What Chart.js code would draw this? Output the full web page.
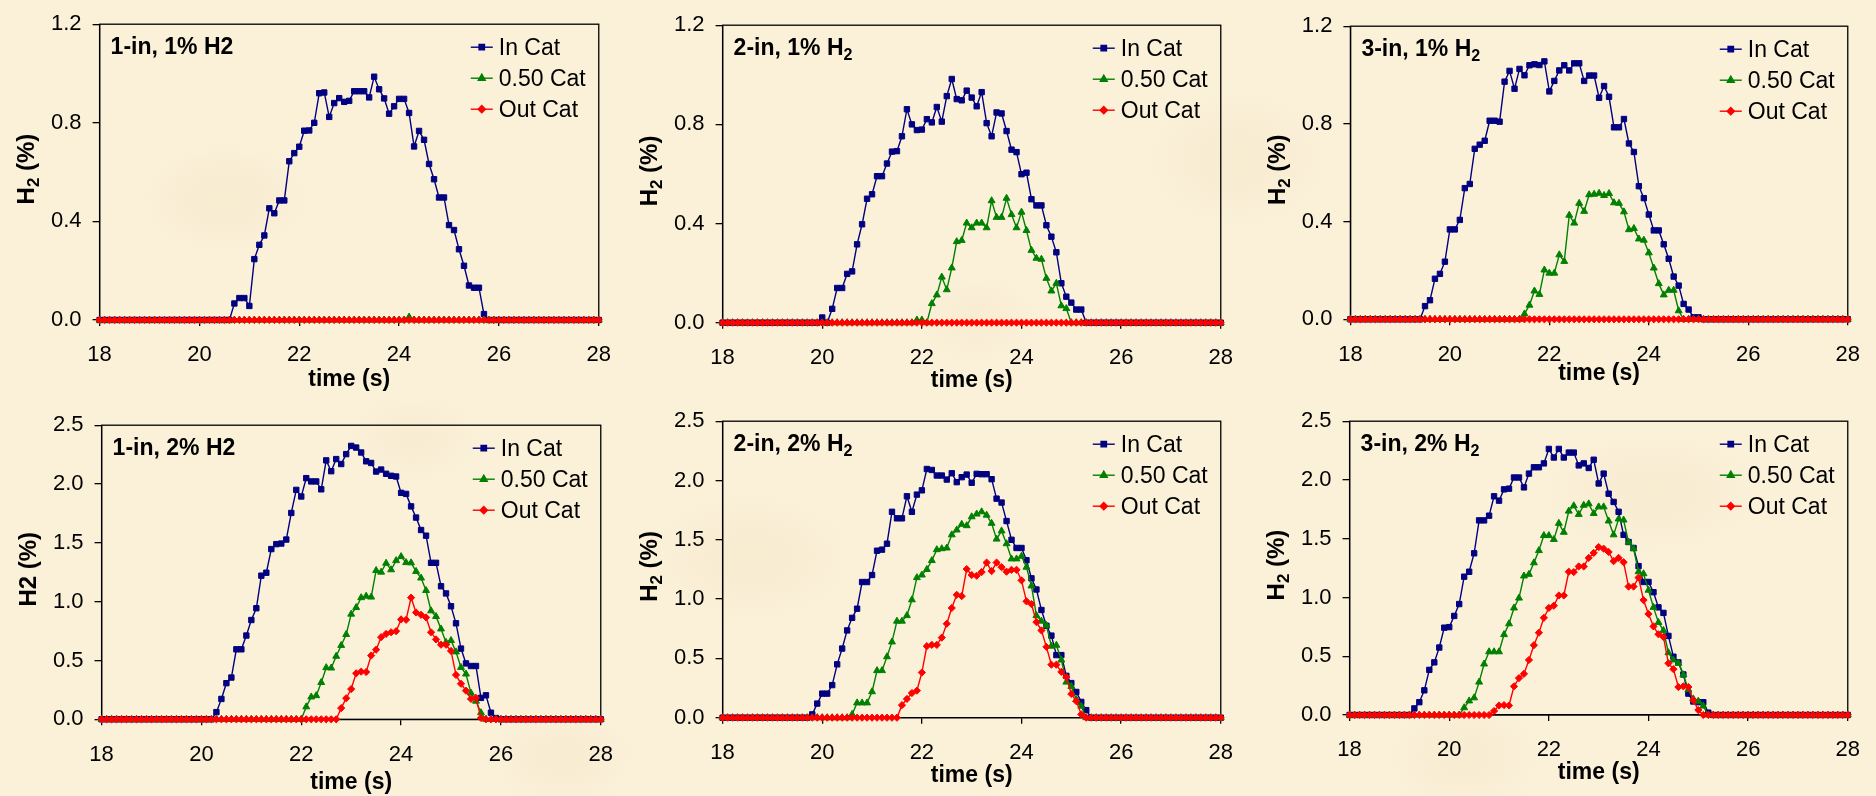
<!DOCTYPE html>
<html><head><meta charset="utf-8">
<script src="https://cdn.jsdelivr.net/npm/chart.js@4.4.1/dist/chart.umd.min.js"></script>
<style>
html,body{margin:0;padding:0;width:1876px;height:796px;overflow:hidden;}
body{position:relative;background-color:#FBF1D9;
background-image:
 radial-gradient(ellipse 90px 60px at 12% 25%, rgba(238,222,186,0.30), transparent),
 radial-gradient(ellipse 110px 70px at 40% 70%, rgba(238,222,186,0.28), transparent),
 radial-gradient(ellipse 100px 75px at 66% 20%, rgba(238,222,186,0.28), transparent),
 radial-gradient(ellipse 120px 65px at 88% 62%, rgba(238,222,186,0.28), transparent),
 radial-gradient(ellipse 80px 55px at 30% 95%, rgba(238,222,186,0.25), transparent),
 radial-gradient(ellipse 85px 60px at 78% 95%, rgba(238,222,186,0.25), transparent),
 radial-gradient(ellipse 70px 50px at 52% 40%, rgba(238,222,186,0.22), transparent),
 radial-gradient(ellipse 75px 50px at 22% 55%, rgba(238,222,186,0.22), transparent);}
canvas{position:absolute;}
</style></head><body>
<script>
// ---------- data ----------
const TIME = Array.from({length: 101}, (_, i) => Math.round(180 + i) / 10);   // 18.0 .. 28.0 s
const X_TICKS = [18, 20, 22, 24, 26, 28];
const Y_MAX_TOP = 1.2, Y_STEP_TOP = 0.4;
const Y_MAX_BOTTOM = 2.5, Y_STEP_BOTTOM = 0.5;
const SERIES_NAMES = ['In Cat', '0.50 Cat', 'Out Cat'];

// Each series: time of first non-zero sample, then the non-zero run (0 elsewhere)
// 1-in, 1% H2
const IN_1IN_1_START = 20.7;
const IN_1IN_1 = [0.067,0.089,0.089,0.057,0.247,0.305,0.343,0.453,0.433,0.485,0.485,0.644,0.677,0.703,0.768,0.769,0.80,0.92,0.923,0.824,0.88,0.90,0.885,0.889,0.928,0.928,0.928,0.903,0.987,0.936,0.899,0.837,0.867,0.897,0.897,0.84,0.704,0.767,0.731,0.633,0.571,0.497,0.497,0.385,0.365,0.287,0.22,0.14,0.131,0.131,0.024];
const MID_1IN_1_START = 24.2;
const MID_1IN_1 = [0.012];
const OUT_1IN_1_START = 18.0;
const OUT_1IN_1 = [];
// 2-in, 1% H2
const IN_2IN_1_START = 20.0;
const IN_2IN_1 = [0.021,0,0.056,0.14,0.14,0.197,0.207,0.316,0.397,0.50,0.518,0.591,0.591,0.642,0.69,0.692,0.752,0.861,0.80,0.777,0.779,0.821,0.808,0.870,0.811,0.914,0.983,0.902,0.897,0.936,0.908,0.873,0.930,0.805,0.752,0.848,0.844,0.773,0.698,0.688,0.599,0.605,0.498,0.473,0.473,0.393,0.347,0.284,0.159,0.105,0.081,0.053,0.053];
const MID_2IN_1_START = 21.9;
const MID_2IN_1 = [0.011,0.011,0,0.077,0.112,0.184,0.133,0.221,0.327,0.332,0.402,0.383,0.402,0.402,0.383,0.492,0.425,0.425,0.502,0.436,0.383,0.446,0.372,0.292,0.260,0.256,0.179,0.128,0.159,0.068,0.057];
const OUT_2IN_1_START = 18.0;
const OUT_2IN_1 = [];
// 3-in, 1% H2
const IN_3IN_1_START = 19.5;
const IN_3IN_1 = [0.054,0.078,0.166,0.186,0.236,0.368,0.368,0.407,0.537,0.554,0.698,0.715,0.731,0.813,0.813,0.809,0.973,1.017,0.944,1.025,0.999,1.040,1.044,1.041,1.056,0.933,0.976,1.019,1.040,1.019,1.048,1.048,0.976,0.998,0.998,0.907,0.955,0.911,0.786,0.786,0.820,0.720,0.685,0.545,0.496,0.429,0.364,0.364,0.307,0.248,0.175,0.138,0.063,0.040,0.008,0.008];
const MID_3IN_1_START = 21.5;
const MID_3IN_1 = [0.022,0.058,0.116,0.102,0.202,0.189,0.189,0.264,0.237,0.426,0.394,0.475,0.442,0.510,0.512,0.516,0.507,0.515,0.477,0.475,0.440,0.367,0.372,0.329,0.324,0.272,0.210,0.146,0.100,0.119,0.119,0.035];
const OUT_3IN_1_START = 18.0;
const OUT_3IN_1 = [];
// 1-in, 2% H2
const IN_1IN_2_START = 20.3;
const IN_1IN_2 = [0.061,0.173,0.307,0.355,0.595,0.595,0.712,0.844,0.944,1.221,1.246,1.447,1.489,1.494,1.528,1.754,1.950,1.894,2.050,2.022,2.022,1.955,2.201,2.109,2.212,2.170,2.254,2.324,2.310,2.268,2.193,2.179,2.106,2.123,2.087,2.070,2.064,1.925,1.916,1.810,1.715,1.609,1.561,1.330,1.330,1.131,1.070,0.961,0.816,0.601,0.475,0.453,0.453,0.182,0.204,0.056,0.011];
const MID_1IN_2_START = 22.1;
const MID_1IN_2 = [0.106,0.190,0.201,0.313,0.439,0.436,0.536,0.628,0.721,0.894,0.950,1.034,1.047,1.039,1.265,1.251,1.327,1.271,1.349,1.383,1.332,1.330,1.257,1.201,1.095,0.922,0.874,0.768,0.654,0.670,0.573,0.441,0.385,0.223,0.154,0.056];
const OUT_1IN_2_START = 22.8;
const OUT_1IN_2 = [0.095,0.179,0.257,0.391,0.405,0.402,0.542,0.592,0.698,0.726,0.740,0.749,0.849,0.846,1.034,0.908,0.888,0.866,0.740,0.679,0.634,0.634,0.581,0.377,0.302,0.243,0.173,0.182,0.011];
// 2-in, 2% H2
const IN_2IN_2_START = 19.8;
const IN_2IN_2 = [0.028,0.119,0.203,0.203,0.275,0.45,0.583,0.736,0.842,0.919,1.144,1.144,1.203,1.408,1.417,1.467,1.736,1.681,1.681,1.867,1.736,1.881,1.917,2.097,2.089,2.042,2.042,2.008,2.061,1.986,2.028,2.050,1.981,2.056,2.053,2.053,2.011,1.847,1.814,1.658,1.50,1.431,1.431,1.328,1.175,1.081,0.908,0.775,0.692,0.528,0.528,0.353,0.292,0.217,0.133,0.064];
const MID_2IN_2_START = 20.6;
const MID_2IN_2 = [0.028,0.125,0.125,0.125,0.219,0.397,0.397,0.514,0.639,0.814,0.814,0.861,0.994,1.181,1.203,1.25,1.325,1.417,1.425,1.431,1.542,1.583,1.631,1.619,1.694,1.717,1.736,1.708,1.639,1.506,1.575,1.467,1.339,1.339,1.361,1.269,1.111,0.861,0.814,0.778,0.603,0.611,0.486,0.30,0.264,0.153,0.097];
const OUT_2IN_2_START = 21.6;
const OUT_2IN_2 = [0.106,0.158,0.208,0.228,0.381,0.603,0.614,0.614,0.675,0.792,0.925,1.036,1.025,1.253,1.203,1.197,1.228,1.308,1.236,1.308,1.269,1.231,1.247,1.247,1.158,0.981,0.958,0.806,0.736,0.597,0.447,0.447,0.386,0.342,0.20,0.139,0.028];
// 3-in, 2% H2
const IN_3IN_2_START = 19.3;
const IN_3IN_2 = [0.056,0.109,0.210,0.384,0.448,0.574,0.743,0.748,0.843,0.944,1.177,1.219,1.376,1.656,1.656,1.696,1.861,1.824,1.920,1.926,2.021,2.021,1.937,2.054,2.108,2.108,2.141,2.264,2.191,2.264,2.191,2.233,2.233,2.124,2.141,2.102,2.172,1.97,2.054,1.883,1.813,1.729,1.533,1.472,1.421,1.267,1.132,1.132,1.045,0.916,0.869,0.673,0.496,0.448,0.345,0.182,0.115,0.109,0.109,0.02];
const MID_3IN_2_START = 20.3;
const MID_3IN_2 = [0.062,0.12,0.146,0.28,0.434,0.538,0.538,0.538,0.684,0.776,0.911,0.995,1.183,1.197,1.295,1.399,1.527,1.527,1.494,1.631,1.555,1.735,1.780,1.707,1.785,1.797,1.715,1.771,1.771,1.651,1.533,1.668,1.659,1.471,1.415,1.219,1.202,1.062,0.916,0.788,0.72,0.53,0.468,0.44,0.342,0.216,0.137,0.118,0.076];
const OUT_3IN_2_START = 20.9;
const OUT_3IN_2 = [0.034,0.081,0.084,0.081,0.244,0.314,0.35,0.468,0.594,0.70,0.827,0.911,0.930,1.017,1.017,1.219,1.216,1.264,1.264,1.337,1.379,1.429,1.415,1.387,1.309,1.337,1.30,1.093,1.093,1.169,0.978,0.86,0.754,0.687,0.664,0.44,0.39,0.238,0.244,0.238,0.126,0.042];

// panel texts ([text, isSubscript] runs)
const PANEL_LABELS = [
  [['1-in, 1% H2',0]],
  [['2-in, 1% H',0],['2',1]],
  [['3-in, 1% H',0],['2',1]],
  [['1-in, 2% H2',0]],
  [['2-in, 2% H',0],['2',1]],
  [['3-in, 2% H',0],['2',1]]
];
const Y_TITLES = [
  [['H',0],['2',1],[' (%)',0]],
  [['H',0],['2',1],[' (%)',0]],
  [['H',0],['2',1],[' (%)',0]],
  [['H2 (%)',0]],
  [['H',0],['2',1],[' (%)',0]],
  [['H',0],['2',1],[' (%)',0]]
];
const X_TITLE = 'time (s)';

// ---------- layout / style ----------
const FONT = '"Liberation Sans", Arial, Helvetica, sans-serif';
const PLOT_BOXES = [ // left, right, top, bottom (page px)
  [99.6, 611.0, 20.0, 320.0],
  [722.6, 1232.8, 21.7, 322.7],
  [1350.4, 1859.8, 22.7, 319.3],
  [101.6, 612.6, 421.0, 719.3],
  [722.6, 1232.8, 417.7, 717.7],
  [1349.6, 1859.8, 417.7, 715.0]
];
const X_TITLE_OFFSET = [60, 58, 54, 63, 58, 58];
const SERIES_STYLE = [
  {color:'#000080', pointStyle:'rect', radius:3.8},
  {color:'#008000', pointStyle:'triangle', radius:4.0},
  {color:'#FF0000', pointStyle:'rectRot', radius:3.6}
];

function series(start, vals) {
  const i0 = Math.round((start - 18) * 10);
  return TIME.map((t, i) => ({x: t, y: (i >= i0 && i < i0 + vals.length) ? vals[i - i0] : 0}));
}

const PANEL_DATA = [
  [series(IN_1IN_1_START, IN_1IN_1), series(MID_1IN_1_START, MID_1IN_1), series(OUT_1IN_1_START, OUT_1IN_1)],
  [series(IN_2IN_1_START, IN_2IN_1), series(MID_2IN_1_START, MID_2IN_1), series(OUT_2IN_1_START, OUT_2IN_1)],
  [series(IN_3IN_1_START, IN_3IN_1), series(MID_3IN_1_START, MID_3IN_1), series(OUT_3IN_1_START, OUT_3IN_1)],
  [series(IN_1IN_2_START, IN_1IN_2), series(MID_1IN_2_START, MID_1IN_2), series(OUT_1IN_2_START, OUT_1IN_2)],
  [series(IN_2IN_2_START, IN_2IN_2), series(MID_2IN_2_START, MID_2IN_2), series(OUT_2IN_2_START, OUT_2IN_2)],
  [series(IN_3IN_2_START, IN_3IN_2), series(MID_3IN_2_START, MID_3IN_2), series(OUT_3IN_2_START, OUT_3IN_2)]
];

function drawRuns(ctx, runs, x, y, size, bold, align) {
  const w = bold ? 'bold ' : '';
  const subSize = size * 0.7;
  let total = 0;
  const widths = runs.map(([t, sub]) => {
    ctx.font = w + (sub ? subSize : size) + 'px ' + FONT;
    const m = ctx.measureText(t).width; total += m; return m;
  });
  let cx = align === 'center' ? x - total / 2 : x;
  const base = y + size * 0.358;
  ctx.textAlign = 'left';
  ctx.textBaseline = 'alphabetic';
  runs.forEach(([t, sub], k) => {
    ctx.font = w + (sub ? subSize : size) + 'px ' + FONT;
    ctx.fillText(t, cx, sub ? base + size * 0.2 : base);
    cx += widths[k];
  });
}

const deco = {
  id: 'deco',
  beforeDatasetsDraw(chart) {
    const {ctx, chartArea: a} = chart;
    ctx.save();
    ctx.strokeStyle = '#000'; ctx.lineWidth = 1.3;
    ctx.strokeRect(a.left, a.top, a.right - a.left, a.bottom - a.top);
    ctx.restore();
  },
  afterDraw(chart, args, o) {
    const {ctx, chartArea: a} = chart;
    ctx.save();
    ctx.fillStyle = '#000';
    // panel label
    drawRuns(ctx, o.label, a.left + 11, a.top + 21.7, 23, true, 'left');
    // legend
    const rows = [23, 54, 85];
    SERIES_STYLE.forEach((s, k) => {
      const y = a.top + rows[k];
      const x0 = a.right - 128;
      ctx.strokeStyle = s.color; ctx.lineWidth = 1.4;
      ctx.beginPath(); ctx.moveTo(x0, y); ctx.lineTo(x0 + 22, y); ctx.stroke();
      ctx.fillStyle = s.color;
      Chart.helpers.drawPoint(ctx, {pointStyle: s.pointStyle, radius: s.radius, rotation: 0, borderWidth: 1}, x0 + 11, y);
      ctx.fillStyle = '#000';
      ctx.font = '23px ' + FONT;
      ctx.textAlign = 'left'; ctx.textBaseline = 'middle';
      ctx.fillText(SERIES_NAMES[k], a.right - 100, y + 1);
    });
    // x title
    ctx.fillStyle = '#000';
    ctx.font = 'bold 23px ' + FONT;
    ctx.textAlign = 'center'; ctx.textBaseline = 'middle';
    ctx.fillText(X_TITLE, (a.left + a.right) / 2, a.bottom + o.xTitleOffset);
    // y title
    ctx.save();
    ctx.translate(a.left - 74, (a.top + a.bottom) / 2 - 3);
    ctx.rotate(-Math.PI / 2);
    drawRuns(ctx, o.yTitle, 0, 0, 24, true, 'center');
    ctx.restore();
    ctx.restore();
  }
};

PLOT_BOXES.forEach((box, p) => {
  const [L, R, T, B] = box;
  const cLeft = Math.floor(L - 100), cTop = Math.floor(T - 20);
  const cRight = Math.min(1876, Math.ceil(R + 16)), cBottom = Math.ceil(B + 77);
  const W = cRight - cLeft, H = cBottom - cTop;
  const yw = L - cLeft, padT = T - cTop, padR = cRight - R, xh = cBottom - B;
  const cv = document.createElement('canvas');
  cv.width = W; cv.height = H;
  cv.style.left = cLeft + 'px'; cv.style.top = cTop + 'px';
  cv.style.width = W + 'px'; cv.style.height = H + 'px';
  document.body.appendChild(cv);
  const top = p < 3;
  const datasets = PANEL_DATA[p].map((d, k) => ({
    label: SERIES_NAMES[k],
    data: d,
    borderColor: SERIES_STYLE[k].color,
    backgroundColor: SERIES_STYLE[k].color,
    borderWidth: 1.4,
    pointStyle: SERIES_STYLE[k].pointStyle,
    pointRadius: SERIES_STYLE[k].radius,
    pointBorderWidth: 1,
    pointBorderColor: SERIES_STYLE[k].color,
    pointBackgroundColor: SERIES_STYLE[k].color,
    tension: 0,
    clip: false,
    order: 2 - k
  }));
  new Chart(cv, {
    type: 'line',
    data: {datasets},
    plugins: [deco],
    options: {
      responsive: false, animation: false, devicePixelRatio: 1,
      layout: {padding: {left: 0, top: padT, right: padR, bottom: 0}},
      plugins: {
        legend: {display: false}, tooltip: {enabled: false},
        deco: {label: PANEL_LABELS[p], yTitle: Y_TITLES[p], xTitleOffset: X_TITLE_OFFSET[p]}
      },
      scales: {
        x: {
          type: 'linear', min: 18, max: 28,
          afterBuildTicks: s => { s.ticks = X_TICKS.map(v => ({value: v})); },
          ticks: {color: '#000', font: {family: FONT, size: 22}, padding: 16, maxRotation: 0, minRotation: 0, autoSkip: false,
                  callback: v => String(v)},
          grid: {display: true, drawOnChartArea: false, drawTicks: true, tickLength: 6, color: '#000', lineWidth: 1.3},
          border: {display: true, color: '#000', width: 1.3},
          afterFit: s => { s.height = xh; }
        },
        y: {
          type: 'linear', min: 0, max: top ? Y_MAX_TOP : Y_MAX_BOTTOM,
          ticks: {stepSize: top ? Y_STEP_TOP : Y_STEP_BOTTOM, color: '#000', font: {family: FONT, size: 22}, padding: 11,
                  callback: v => Number(v).toFixed(1)},
          grid: {display: true, drawOnChartArea: false, drawTicks: true, tickLength: 7, color: '#000', lineWidth: 1.3},
          border: {display: true, color: '#000', width: 1.3},
          afterFit: s => { s.width = yw; }
        }
      }
    }
  });
});
</script>
</body></html>
